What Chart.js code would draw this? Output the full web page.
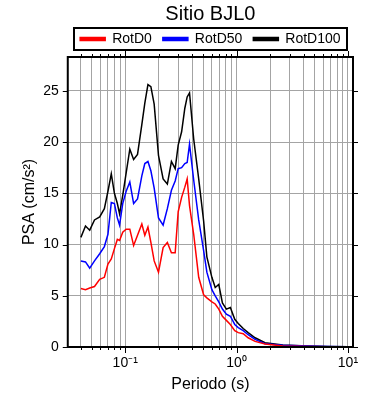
<!DOCTYPE html>
<html>
<head>
<meta charset="utf-8">
<script src="https://cdn.jsdelivr.net/npm/chart.js@4.4.1/dist/chart.umd.min.js"></script>
<style>
html,body{margin:0;padding:0;background:#fff;}
#wrap{width:390px;height:400px;}
</style>
</head>
<body>
<div id="wrap"><canvas id="c" width="390" height="400"></canvas></div>
<script>
// ---- data ----
const periods = [0.040, 0.044, 0.048, 0.053, 0.059, 0.065, 0.070, 0.075, 0.080, 0.085,
  0.089, 0.095, 0.102, 0.110, 0.119, 0.129, 0.141, 0.150, 0.160, 0.170,
  0.182, 0.199, 0.219, 0.239, 0.260, 0.281, 0.299, 0.321, 0.343, 0.360,
  0.378, 0.412, 0.457, 0.506, 0.541, 0.600, 0.643, 0.692, 0.746, 0.810,
  0.879, 0.963, 1.035, 1.147, 1.270, 1.466, 1.80, 2.60, 4.34, 6.53, 10.0];
const rotD0 = [5.7, 5.6, 5.75, 5.9, 6.6, 6.8, 8.1, 8.6, 9.6, 10.5,
  10.4, 11.2, 11.5, 11.5, 9.9, 10.9, 12.0, 10.9, 11.7, 10.2,
  8.4, 7.3, 9.7, 10.2, 9.2, 9.2, 13.2, 14.6, 15.6, 16.4,
  13.8, 11.0, 6.8, 5.1, 4.8, 4.4, 4.2, 3.7, 3.0, 2.6,
  2.2, 1.6, 1.4, 1.3, 0.9, 0.55, 0.3, 0.1, 0.05, 0.03, 0.02];
const rotD50 = [8.4, 8.3, 7.7, 8.4, 9.1, 9.8, 11.0, 14.1, 14.0, 12.6,
  11.9, 14.0, 15.2, 16.1, 14.0, 14.45, 16.7, 17.9, 18.1, 17.2,
  15.5, 12.6, 11.9, 13.5, 15.3, 16.2, 17.4, 17.5, 17.9, 18.0,
  19.8, 16.3, 12.4, 9.4, 7.3, 5.6, 5.0, 4.4, 3.7, 3.2,
  3.0, 2.2, 1.9, 1.6, 1.2, 0.75, 0.32, 0.17, 0.1, 0.05, 0.02];
const rotD100 = [10.7, 11.8, 11.4, 12.4, 12.7, 13.5, 15.2, 16.9, 15.0, 14.0,
  13.0, 14.8, 17.0, 19.3, 18.3, 18.8, 21.7, 23.8, 25.6, 25.4,
  23.7, 18.7, 16.4, 15.9, 18.1, 17.4, 19.7, 21.0, 23.3, 24.4,
  24.8, 20.3, 16.4, 12.3, 8.8, 6.8, 5.8, 6.1, 4.3, 3.7,
  3.85, 2.7, 2.3, 1.8, 1.4, 0.9, 0.42, 0.2, 0.1, 0.06, 0.03];
const seriesNames = ['RotD0', 'RotD50', 'RotD100'];
const seriesColors = ['#ff0000', '#0000ff', '#000000'];
const xMajorTicks = [0.1, 1, 10];
const xTickLabels = ['10\u207B\u00B9', '10\u2070', '10\u00B9'];
const yTicks = [0, 5, 10, 15, 20, 25];
const titleText = 'Sitio BJL0';
const xTitle = 'Periodo (s)';
const yTitle = 'PSA (cm/s\u00B2)';
const xMin = 0.0305, xMax = 11.1, yMin = 0, yMax = 28.3;

// grid tick positions: 1..9 x each decade inside the range
const xGridTicks = [];
for (let e = -2; e <= 1; e++) {
  for (let m = 1; m <= 9; m++) {
    const v = parseFloat((m * Math.pow(10, e)).toPrecision(3));
    if (v >= xMin && v <= xMax) xGridTicks.push(v);
  }
}
const isMajor = v => xMajorTicks.some(t => Math.abs(t - v) / t < 1e-6);
const labelFor = v => {
  const i = xMajorTicks.findIndex(t => Math.abs(t - v) / t < 1e-6);
  return i >= 0 ? xTickLabels[i] : '';
};

const seriesValues = [rotD0, rotD50, rotD100];
const datasets = seriesNames.map((name, k) => ({
  label: name,
  data: periods.map((p, i) => ({x: p, y: seriesValues[k][i]})),
  borderColor: seriesColors[k],
  backgroundColor: seriesColors[k],
  borderWidth: 1.5,
  pointRadius: 0,
  tension: 0,
  fill: false
}));

const FONT = "'Liberation Sans', Arial, Helvetica, sans-serif";

const framePlugin = {
  id: 'frame',
  afterLayout(chart) {
    const a = chart.chartArea;
    const t = chart.titleBlock, l = chart.legend;
    if (t) { t.left = a.left; t.right = a.right; t.width = a.right - a.left; t.top += 2; t.bottom += 2; }
    if (l) { l.left = a.left; l.right = a.right; l.width = a.right - a.left; l.top -= 1; l.bottom -= 1; }
  },
  afterDraw(chart) {
    const {ctx, chartArea: a, scales: {x, y}} = chart;
    ctx.save();
    ctx.strokeStyle = '#000';
    ctx.lineWidth = 1;
    ctx.beginPath();
    xGridTicks.forEach(v => {
      const px = Math.round(x.getPixelForValue(v)) + 0.5;
      const len = isMajor(v) ? 6 : 3;
      ctx.moveTo(px, a.bottom); ctx.lineTo(px, a.bottom + len);
      ctx.moveTo(px, a.top); ctx.lineTo(px, a.top - len);
    });
    yTicks.forEach(v => {
      const py = Math.round(y.getPixelForValue(v)) + 0.5;
      ctx.moveTo(a.left, py); ctx.lineTo(a.left - 5, py);
      ctx.moveTo(a.right, py); ctx.lineTo(a.right + 5, py);
    });
    ctx.stroke();
    ctx.lineWidth = 2;
    ctx.strokeRect(a.left, a.top, a.right - a.left, a.bottom - a.top);
    // legend frame
    const l = chart.legend;
    if (l && l.lineWidths) {
      const pad = l.options.labels.padding;
      const fs = l.options.labels.font.size;
      const startX = (l.left + pad + l.right - l.lineWidths[0]) / 2;
      const endX = startX + l.lineWidths[0] - pad;
      const cy = l.top + pad + fs / 2;
      ctx.lineWidth = 2;
      ctx.strokeRect(Math.round(startX - 6), Math.round(cy - 11), Math.round(endX - startX + 13), 22);
    }
    ctx.restore();
  }
};

new Chart(document.getElementById('c'), {
  type: 'line',
  data: {datasets},
  plugins: [framePlugin],
  options: {
    responsive: false,
    animation: false,
    devicePixelRatio: 1,
    layout: {padding: {left: 13, right: 37, top: 0, bottom: 2}},
    plugins: {
      title: {
        display: true, text: titleText, color: '#000',
        font: {family: FONT, size: 20, weight: 'normal', lineHeight: 1},
        padding: {top: 2, bottom: 0}
      },
      legend: {
        display: true, position: 'top',
        labels: {
          color: '#000', boxWidth: 25, boxHeight: 3, padding: 11,
          font: {family: FONT, size: 14}
        }
      },
      tooltip: {enabled: false}
    },
    scales: {
      x: {
        type: 'logarithmic', min: xMin, max: xMax,
        afterBuildTicks: s => { s.ticks = xGridTicks.map(v => ({value: v})); },
        ticks: {
          autoSkip: false, maxRotation: 0, minRotation: 0, padding: 3,
          color: '#000', font: {family: FONT, size: 14},
          callback: v => labelFor(v)
        },
        grid: {color: '#a4a4a4', lineWidth: 1, drawTicks: true, tickLength: 5, tickColor: 'rgba(0,0,0,0)'},
        border: {display: false},
        title: {display: true, text: xTitle, color: '#000', font: {family: FONT, size: 16}, padding: {top: 0, bottom: 4}}
      },
      y: {
        type: 'linear', min: yMin, max: yMax,
        afterBuildTicks: s => { s.ticks = yTicks.map(v => ({value: v})); },
        ticks: {
          padding: 4, color: '#000', font: {family: FONT, size: 14},
          callback: v => String(v)
        },
        grid: {color: '#a4a4a4', lineWidth: 1, drawTicks: true, tickLength: 5, tickColor: 'rgba(0,0,0,0)'},
        border: {display: false},
        title: {display: true, text: yTitle, color: '#000', font: {family: FONT, size: 16}, padding: {top: 7, bottom: 0}}
      }
    }
  }
});
</script>
</body>
</html>
